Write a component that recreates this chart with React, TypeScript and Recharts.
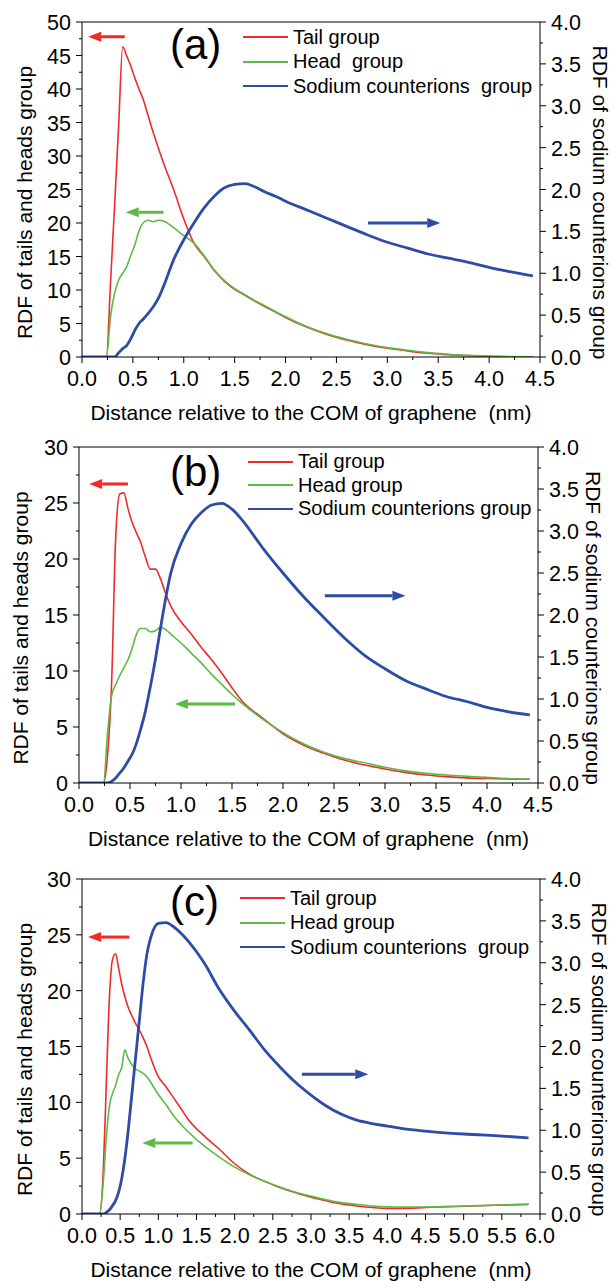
import React from 'react';
import { LineChart, Line, XAxis, YAxis, ReferenceLine, Legend } from 'recharts';

const FONT = 'Arial, "Liberation Sans", Helvetica, sans-serif';
const RED = '#ee2a2a';
const GREEN = '#5cba45';
const BLUE = '#2e4ca6';

// axis ticks (majors get a label, the rest are minor ticks)
const xTicks45 = [0, 0.25, 0.5, 0.75, 1, 1.25, 1.5, 1.75, 2, 2.25, 2.5, 2.75, 3, 3.25, 3.5, 3.75, 4, 4.25, 4.5];
const xTicks60 = [0, 0.25, 0.5, 0.75, 1, 1.25, 1.5, 1.75, 2, 2.25, 2.5, 2.75, 3, 3.25, 3.5, 3.75, 4, 4.25, 4.5, 4.75, 5, 5.25, 5.5, 5.75, 6];
const yTicks50 = [0, 2.5, 5, 7.5, 10, 12.5, 15, 17.5, 20, 22.5, 25, 27.5, 30, 32.5, 35, 37.5, 40, 42.5, 45, 47.5, 50];
const yTicks30 = [0, 2.5, 5, 7.5, 10, 12.5, 15, 17.5, 20, 22.5, 25, 27.5, 30];
const rightTicks = [0, 0.25, 0.5, 0.75, 1, 1.25, 1.5, 1.75, 2, 2.25, 2.5, 2.75, 3, 3.25, 3.5, 3.75, 4];

// (a)
const xA = [0, 0.24, 0.28, 0.32, 0.36, 0.4, 0.44, 0.48, 0.52, 0.56, 0.6, 0.65, 0.7, 0.75, 0.8, 0.9, 1.0, 1.1, 1.2, 1.3, 1.4, 1.5, 1.6, 1.7, 1.8, 1.9, 2.0, 2.2, 2.4, 2.6, 2.8, 3.0, 3.2, 3.4, 3.6, 3.8, 4.0, 4.2, 4.43];
const tailA = [0, 0, 11, 22.5, 34.5, 46.3, 44.9, 43.4, 41.6, 40.0, 38.5, 36.0, 33.5, 31.2, 29.0, 25.0, 20.6, 17.0, 15.0, 12.9, 11.3, 10.1, 9.2, 8.3, 7.5, 6.7, 5.9, 4.5, 3.4, 2.55, 1.85, 1.3, 0.9, 0.55, 0.35, 0.18, 0.1, 0.04, 0.02];
const headA = [0, 0, 6, 9.5, 11.5, 12.5, 13.5, 15.2, 16.8, 18.8, 20.0, 20.4, 20.2, 20.4, 20.3, 19.3, 18.1, 17.0, 15.1, 13.0, 11.4, 10.2, 9.3, 8.4, 7.6, 6.8, 6.0, 4.6, 3.5, 2.65, 1.95, 1.4, 1.0, 0.65, 0.42, 0.24, 0.14, 0.07, 0.04];
const sodiumA = [0, 0, 0, 0, 0.05, 0.1, 0.14, 0.22, 0.32, 0.4, 0.45, 0.52, 0.6, 0.7, 0.84, 1.16, 1.4, 1.6, 1.78, 1.92, 2.02, 2.06, 2.07, 2.03, 1.97, 1.92, 1.86, 1.76, 1.66, 1.56, 1.46, 1.37, 1.3, 1.23, 1.18, 1.13, 1.07, 1.02, 0.97];

// (b)
const xB = [0, 0.24, 0.28, 0.32, 0.36, 0.4, 0.44, 0.48, 0.52, 0.56, 0.6, 0.65, 0.7, 0.75, 0.8, 0.85, 0.9, 1.0, 1.1, 1.2, 1.3, 1.4, 1.5, 1.6, 1.8, 2.0, 2.2, 2.4, 2.6, 2.8, 3.0, 3.2, 3.4, 3.6, 3.8, 4.0, 4.2, 4.42];
const tailB = [0, 0, 2.5, 9, 22, 25.8, 25.9, 24.5, 23.3, 22.4, 21.6, 20.2, 19.1, 19.1, 18.2, 16.9, 15.8, 14.4, 13.3, 12.1, 11.0, 9.8, 8.5, 7.3, 5.8, 4.4, 3.4, 2.65, 2.05, 1.6, 1.25, 0.95, 0.72, 0.57, 0.46, 0.4, 0.36, 0.34];
const headB = [0, 0, 4.5, 7.8, 8.8, 9.6, 10.3, 11.0, 12.0, 13.2, 13.8, 13.8, 13.5, 13.6, 13.9, 13.7, 13.3, 12.5, 11.6, 10.7, 9.7, 8.8, 7.9, 7.1, 5.7, 4.5, 3.5, 2.75, 2.2, 1.8, 1.4, 1.08, 0.86, 0.72, 0.6, 0.5, 0.4, 0.35];
const sodiumB = [0, 0, 0, 0.02, 0.06, 0.12, 0.18, 0.26, 0.34, 0.46, 0.62, 0.85, 1.15, 1.48, 1.85, 2.2, 2.5, 2.85, 3.08, 3.22, 3.31, 3.33, 3.26, 3.13, 2.8, 2.5, 2.22, 1.97, 1.73, 1.52, 1.36, 1.22, 1.12, 1.03, 0.97, 0.9, 0.85, 0.81];

// (c)
const xC = [0, 0.23, 0.28, 0.32, 0.36, 0.4, 0.44, 0.48, 0.52, 0.56, 0.6, 0.65, 0.7, 0.75, 0.8, 0.85, 0.9, 1.0, 1.1, 1.2, 1.3, 1.4, 1.6, 1.8, 2.0, 2.2, 2.4, 2.6, 2.8, 3.0, 3.2, 3.4, 3.6, 3.8, 4.0, 4.2, 4.5, 5.0, 5.5, 5.85];
const tailC = [0, 0, 4, 12, 19.5, 22.8, 23.3, 22.0, 20.6, 19.5, 18.6, 17.8, 17.1, 16.5, 15.8, 15.0, 14.0, 12.3, 11.4, 10.4, 9.4, 8.4, 7.0, 5.8, 4.5, 3.55, 2.9, 2.35, 1.9, 1.5, 1.18, 0.9, 0.72, 0.58, 0.5, 0.5, 0.58, 0.7, 0.8, 0.86];
const headC = [0, 0, 3.0, 7.0, 9.7, 10.8, 11.5, 12.5, 13.1, 14.7, 14.0, 13.4, 13.0, 12.8, 12.6, 12.3, 11.8, 10.7, 9.8, 8.8, 8.0, 7.3, 6.1, 5.1, 4.2, 3.5, 2.9, 2.4, 1.95, 1.6, 1.28, 1.02, 0.85, 0.72, 0.65, 0.62, 0.63, 0.72, 0.8, 0.87];
const sodiumC = [0, 0, 0, 0.02, 0.05, 0.1, 0.16, 0.26, 0.42, 0.65, 0.95, 1.4, 1.85, 2.3, 2.75, 3.1, 3.3, 3.47, 3.48, 3.43, 3.35, 3.25, 3.0, 2.68, 2.42, 2.19, 1.95, 1.75, 1.57, 1.42, 1.29, 1.19, 1.12, 1.08, 1.05, 1.02, 0.99, 0.955, 0.93, 0.91];

// annotation arrows: [x0, y0, x1, y1] in data units, head at the second point
const arrowsA = { tail: [0.42, 47.8, 0.06, 47.8], head: [0.8, 21.6, 0.43, 21.6], sodium: [2.81, 1.6, 3.52, 1.6] };
const arrowsB = { tail: [0.48, 26.7, 0.1, 26.7], head: [1.53, 7.05, 0.94, 7.05], sodium: [2.41, 2.23, 3.2, 2.23] };
const arrowsC = { tail: [0.62, 24.8, 0.08, 24.8], head: [1.45, 6.36, 0.79, 6.36], sodium: [2.88, 1.67, 3.75, 1.67] };

const SERIES_ORDER = ['tail', 'head', 'sodium'];

const buildRows = (xs: number[], tail: number[], head: number[], sodium: number[]) =>
  xs.map((x, i) => ({ x, tail: tail[i], head: head[i], sodium: sodium[i] }));

const isMajor = (v: number, step: number) => Math.abs(v / step - Math.round(v / step)) < 1e-6;

const TICK_FS = 21.5;
const TITLE_FS = 21;

const XTick = ({ x, y, payload }: any) => {
  const v = payload.value;
  const major = isMajor(v, 0.5);
  return (
    <g>
      <line x1={x} x2={x} y1={y} y2={y + (major ? 6 : 3)} stroke="#000" />
      {major && (
        <text x={x} y={y + 29} textAnchor="middle" fontSize={TICK_FS} fontFamily={FONT} fill="#000">
          {v.toFixed(1)}
        </text>
      )}
    </g>
  );
};

const LeftTick = ({ x, y, payload }: any) => {
  const v = payload.value;
  const major = isMajor(v, 5);
  return (
    <g>
      <line x1={x} x2={x - (major ? 6 : 3)} y1={y} y2={y} stroke="#000" />
      {major && (
        <text x={x - 11} y={y + 8} textAnchor="end" fontSize={TICK_FS} fontFamily={FONT} fill="#000">
          {String(v)}
        </text>
      )}
    </g>
  );
};

const RightTick = ({ x, y, payload }: any) => {
  const v = payload.value;
  const major = isMajor(v, 0.5);
  return (
    <g>
      <line x1={x} x2={x + (major ? 6 : 3)} y1={y} y2={y} stroke="#000" />
      {major && (
        <text x={x + 11} y={y + 8} textAnchor="start" fontSize={TICK_FS} fontFamily={FONT} fill="#000">
          {v.toFixed(1)}
        </text>
      )}
    </g>
  );
};

const arrowShape = (color: string) => (p: any) => {
  const { x1, y1, x2, y2 } = p;
  const ang = Math.atan2(y2 - y1, x2 - x1);
  const L = 13;
  const W = 5;
  const bx = x2 - L * Math.cos(ang);
  const by = y2 - L * Math.sin(ang);
  const nx = -Math.sin(ang) * W;
  const ny = Math.cos(ang) * W;
  return (
    <g>
      <line x1={x1} y1={y1} x2={bx} y2={by} stroke={color} strokeWidth={3} />
      <polygon points={`${x2},${y2} ${bx + nx},${by + ny} ${bx - nx},${by - ny}`} fill={color} />
    </g>
  );
};

const renderLegend = (rowH: number) => (props: any) => {
  const items = [...(props.payload || [])].sort(
    (a: any, b: any) => SERIES_ORDER.indexOf(a.dataKey) - SERIES_ORDER.indexOf(b.dataKey)
  );
  return (
    <div style={{ fontFamily: FONT, fontSize: 20, color: '#000' }}>
      {items.map((item: any) => (
        <div key={item.dataKey} style={{ display: 'flex', alignItems: 'center', height: rowH, whiteSpace: 'pre' }}>
          <span style={{ display: 'inline-block', width: 45, borderTop: `2px solid ${item.color}`, marginRight: 5 }} />
          <span>{item.value}</span>
        </div>
      ))}
    </div>
  );
};

const panels = [
  {
    tag: '(a)', top: 0, height: 425, plotH: 335, leftW: 82, rightW: 73, xMax: 4.5, xTicks: xTicks45, yMax: 50, yTicks: yTicks50,
    rows: buildRows(xA, tailA, headA, sodiumA), arrows: arrowsA,
    names: ['Tail group', 'Head  group', 'Sodium counterions  group'],
    legend: { x: 243, y: 25, rowH: 24.5 }, tagPos: { x: 170, y: 24 }, leftLabelX: 24, rightLabelX: 600,
  },
  {
    tag: '(b)', top: 425, height: 432, plotH: 336, leftW: 79, rightW: 75, xMax: 4.5, xTicks: xTicks45, yMax: 30, yTicks: yTicks30,
    rows: buildRows(xB, tailB, headB, sodiumB), arrows: arrowsB,
    names: ['Tail group', 'Head group', 'Sodium counterions group'],
    legend: { x: 248, y: 25, rowH: 23.5 }, tagPos: { x: 170, y: 26 }, leftLabelX: 20, rightLabelX: 593,
  },
  {
    tag: '(c)', top: 857, height: 424, plotH: 335, leftW: 82, rightW: 73, xMax: 6, xTicks: xTicks60, yMax: 30, yTicks: yTicks30,
    rows: buildRows(xC, tailC, headC, sodiumC), arrows: arrowsC,
    names: ['Tail group', 'Head group', 'Sodium counterions  group'],
    legend: { x: 240, y: 29, rowH: 24.5 }, tagPos: { x: 170, y: 24 }, leftLabelX: 24, rightLabelX: 599,
  },
];

const PLOT_TOP = 22;

function Panel({ p }: { p: any }) {
  const xAxisH = p.height - PLOT_TOP - p.plotH;
  const plotBottom = PLOT_TOP + p.plotH;
  const plotCx = (p.leftW + (613 - p.rightW)) / 2;
  const labelCy = PLOT_TOP + p.plotH / 2 + 13;

  return (
    <div style={{ position: 'absolute', left: 0, top: p.top, width: 613, height: p.height }}>
      <LineChart width={613} height={p.height} data={p.rows} margin={{ top: PLOT_TOP, right: 0, left: 0, bottom: 0 }}>
        <XAxis
          dataKey="x" type="number" domain={[0, p.xMax]} ticks={p.xTicks} interval={0}
          allowDataOverflow height={xAxisH} tickSize={0} tickMargin={0} tickLine={false}
          axisLine={{ stroke: '#000' }} tick={(t: any) => <XTick {...t} />}
          label={{
            content: () => (
              <text
                x={plotCx} y={plotBottom + 63} textAnchor="middle" fontSize={TITLE_FS} fontFamily={FONT} fill="#000"
                style={{ whiteSpace: 'pre' }}
              >
                Distance relative to the COM of graphene  (nm)
              </text>
            ),
          }}
        />
        <YAxis
          yAxisId="left" domain={[0, p.yMax]} ticks={p.yTicks} interval={0} allowDataOverflow
          width={p.leftW} tickSize={0} tickMargin={0} tickLine={false}
          axisLine={{ stroke: '#000' }} tick={(t: any) => <LeftTick {...t} />}
          label={{
            content: () => (
              <text
                x={p.leftLabelX} y={labelCy} transform={`rotate(-90, ${p.leftLabelX}, ${labelCy})`}
                textAnchor="middle" dominantBaseline="central" fontSize={TITLE_FS} fontFamily={FONT} fill="#000"
              >
                RDF of tails and heads group
              </text>
            ),
          }}
        />
        <YAxis
          yAxisId="right" orientation="right" domain={[0, 4]} ticks={rightTicks} interval={0} allowDataOverflow
          width={p.rightW} tickSize={0} tickMargin={0} tickLine={false}
          axisLine={{ stroke: '#000' }} tick={(t: any) => <RightTick {...t} />}
          label={{
            content: () => (
              <text
                x={p.rightLabelX} y={labelCy} transform={`rotate(90, ${p.rightLabelX}, ${labelCy})`}
                textAnchor="middle" dominantBaseline="central" fontSize={TITLE_FS} fontFamily={FONT} fill="#000"
              >
                RDF of sodium counterions group
              </text>
            ),
          }}
        />
        <ReferenceLine yAxisId="left" y={p.yMax} stroke="#000" ifOverflow="visible" />
        <Line yAxisId="left" dataKey="tail" name={p.names[0]} type="monotone" stroke={RED} strokeWidth={1.6} dot={false} isAnimationActive={false} />
        <Line yAxisId="left" dataKey="head" name={p.names[1]} type="monotone" stroke={GREEN} strokeWidth={1.6} dot={false} isAnimationActive={false} />
        <Line yAxisId="right" dataKey="sodium" name={p.names[2]} type="monotone" stroke={BLUE} strokeWidth={2.8} dot={false} isAnimationActive={false} />
        <ReferenceLine
          yAxisId="left" ifOverflow="visible"
          segment={[{ x: p.arrows.tail[0], y: p.arrows.tail[1] }, { x: p.arrows.tail[2], y: p.arrows.tail[3] }]}
          shape={arrowShape(RED)}
        />
        <ReferenceLine
          yAxisId="left" ifOverflow="visible"
          segment={[{ x: p.arrows.head[0], y: p.arrows.head[1] }, { x: p.arrows.head[2], y: p.arrows.head[3] }]}
          shape={arrowShape(GREEN)}
        />
        <ReferenceLine
          yAxisId="right" ifOverflow="visible"
          segment={[{ x: p.arrows.sodium[0], y: p.arrows.sodium[1] }, { x: p.arrows.sodium[2], y: p.arrows.sodium[3] }]}
          shape={arrowShape(BLUE)}
        />
        <Legend
          verticalAlign="middle" align="center" layout="vertical"
          content={renderLegend(p.legend.rowH)}
          wrapperStyle={{ position: 'absolute', left: p.legend.x, top: p.legend.y, width: 'auto', height: 'auto' }}
        />
      </LineChart>
      <div
        style={{
          position: 'absolute', left: p.tagPos.x, top: p.tagPos.y, fontFamily: FONT, fontSize: 42,
          lineHeight: '42px', color: '#000', whiteSpace: 'pre',
        }}
      >
        {p.tag}
      </div>
    </div>
  );
}

export default function App() {
  return (
    <div style={{ position: 'absolute', left: 0, top: 0, width: 613, height: 1281, background: '#fff' }}>
      {panels.map((p) => (
        <Panel key={p.tag} p={p} />
      ))}
    </div>
  );
}
